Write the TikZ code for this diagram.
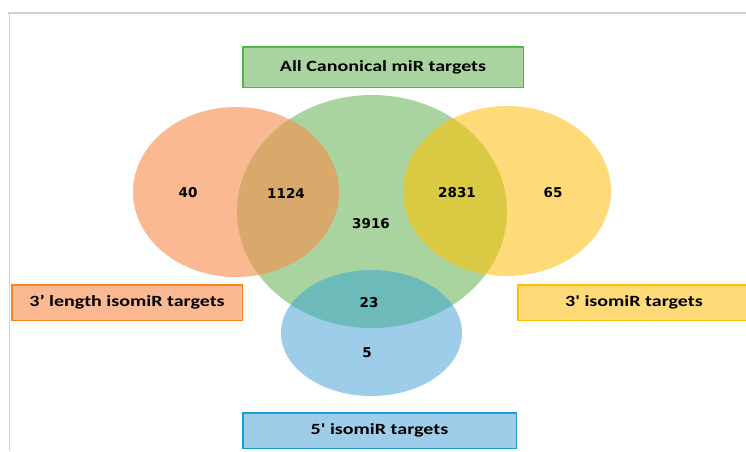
\documentclass[tikz,border=0pt]{standalone}
\usepackage{fontspec}
\usepackage{graphicx}
\setmainfont{Carlito}
\newfontfamily\numfont{DejaVu Sans}
\definecolor{orF}{HTML}{FBB993}
\definecolor{grF}{HTML}{A9D4A0}
\definecolor{yeF}{HTML}{FEDB78}
\definecolor{blF}{HTML}{9DCDE9}
\definecolor{ogF}{HTML}{D9A86B}
\definecolor{ygF}{HTML}{D9C943}
\definecolor{bgF}{HTML}{6CBABA}
\definecolor{grB}{HTML}{4DB848}
\definecolor{orB}{HTML}{F7861F}
\definecolor{yeB}{HTML}{FFC000}
\definecolor{blB}{HTML}{1E9AD6}
\definecolor{frameC}{HTML}{D0D0D0}
\newcommand{\lbltext}[1]{\scalebox{1}[0.78]{\fontsize{20}{22}\selectfont\bfseries #1}}
\newcommand{\numtext}[1]{{\numfont\fontsize{13.5}{15}\selectfont\bfseries #1}}
\tikzset{
  labelbox/.style={draw, line width=1.5pt, inner sep=0pt, align=center},
  num/.style={inner sep=0pt, text=black},
}
\begin{document}
\begin{tikzpicture}[x=1pt,y=-1pt]
\useasboundingbox (0,0) rectangle (746,451);
% frame
\draw[frameC, line width=1.5pt] (8,13) -- (746,13);
\draw[frameC, line width=1.5pt] (9.5,13) -- (9.5,451);
% set centres
\coordinate (cO) at (236,192);
\coordinate (cG) at (372,211.5);
\coordinate (cY) at (507,191);
\coordinate (cB) at (371.5,333);
% base fills
\fill[orF] (cO) ellipse [x radius=103, y radius=85];
\fill[grF] (cG) ellipse [x radius=135, y radius=116.5];
\fill[yeF] (cY) ellipse [x radius=104, y radius=85];
\fill[blF] (cB) ellipse [x radius=90.5, y radius=63];
% overlaps
\begin{scope}
  \clip (cG) ellipse [x radius=135, y radius=116.5];
  \fill[ogF] (cO) ellipse [x radius=103, y radius=85];
  \fill[ygF] (cY) ellipse [x radius=104, y radius=85];
  \fill[bgF] (cB) ellipse [x radius=90.5, y radius=63];
\end{scope}
% numbers
\node[num] (n40) at (188,193) {\numtext{40}};
\node[num] (n1124) at (286,193) {\numtext{1124}};
\node[num] (n2831) at (457,193) {\numtext{2831}};
\node[num] (n65) at (553,193) {\numtext{65}};
\node[num] (n3916) at (371,224) {\numtext{3916}};
\node[num] (n23) at (369,303) {\numtext{23}};
\node[num] (n5) at (367,353) {\numtext{5}};
% label boxes
\node[labelbox, draw=grB, fill=grF, minimum width=280.5, minimum height=40.5] (lG) at (383,67) {\lbltext{All Canonical miR targets}};
\node[labelbox, draw=orB, fill=orF, minimum width=230.5, minimum height=35.5] (lO) at (127,302.5) {\lbltext{3’ length isomiR targets}};
\node[labelbox, draw=yeB, fill=yeF, minimum width=232.5, minimum height=35.5] (lY) at (634,302.5) {\lbltext{3\textquotesingle\ isomiR targets}};
\node[labelbox, draw=blB, fill=blF, minimum width=273.5, minimum height=35.5] (lB) at (379.5,430.5) {\lbltext{5\textquotesingle\ isomiR targets}};
\end{tikzpicture}
\end{document}
